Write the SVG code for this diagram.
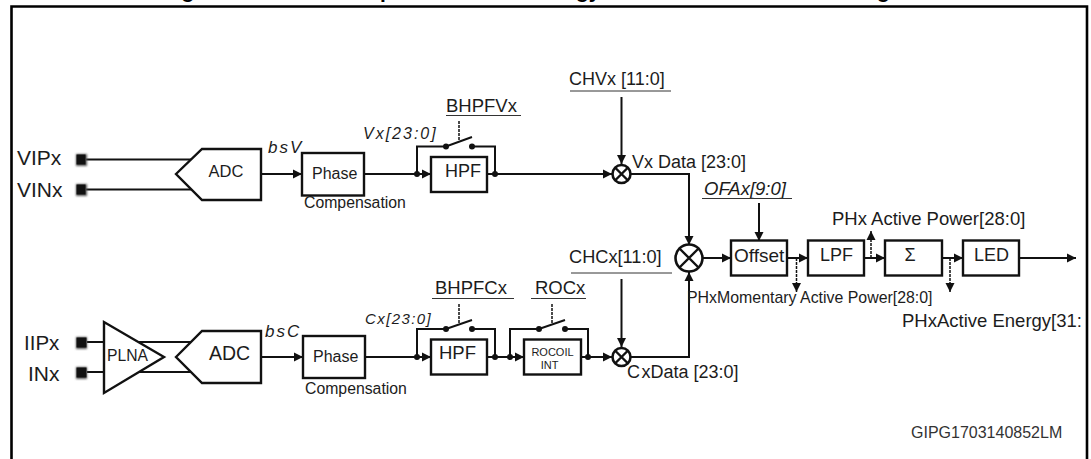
<svg xmlns="http://www.w3.org/2000/svg" width="1091" height="459" viewBox="0 0 1091 459">
<style>
text{font-family:"Liberation Sans",Arial,sans-serif;fill:#1c1c1c}
.b{fill:#fff;stroke:#111;stroke-width:2.4}
.l{fill:none;stroke:#111;stroke-width:2}
.a{fill:none;stroke:#111;stroke-width:2;marker-end:url(#ah)}
.d{fill:none;stroke:#111;stroke-width:1.5;stroke-dasharray:3 1}
.da{fill:none;stroke:#111;stroke-width:1.5;stroke-dasharray:3 1;marker-end:url(#ah)}
.u{fill:none;stroke:#333;stroke-width:1}
.m{fill:#fff;stroke:#111;stroke-width:2.6}
.x{fill:none;stroke:#111;stroke-width:2.4}
.j{fill:#111}
.t{font-weight:bold;font-size:21px;fill:#000}
.p{fill:#111}
.s{fill:#555;filter:url(#bl)}
</style>
<defs>
<marker id="ah" markerUnits="userSpaceOnUse" markerWidth="9" markerHeight="10" refX="9" refY="5" orient="auto"><path d="M0,0.5 L9,5 L0,9.500 Z" fill="#111"/></marker>
<filter id="bl" x="-40%" y="-40%" width="180%" height="180%"><feGaussianBlur stdDeviation="1.2"/></filter>
</defs>
<rect width="1091" height="459" fill="#fff"/>
<g id="title">
<text class="t" x="188" y="-2" text-anchor="middle">g</text>
<text class="t" x="380" y="-2">p</text>
<text class="t" x="576" y="-2">gy</text>
<text class="t" x="877" y="-2">g</text>
</g>
<path id="frame" d="M11.500,459 V6.500 H1087 V459" fill="none" stroke="#000" stroke-width="2.600"/>
<g id="connectors">
<path class="l" d="M86,159.500 H192 M86,189.500 H192 M87,342 H104 M87,372 H104"/>
<path class="l" stroke-width="1.500" d="M139,342 H192 M139,372 H192"/>
<path class="a" d="M262,174 H302"/>
<path class="l" d="M364,174 H431"/>
<path class="a" d="M417,174 H431"/>
<path class="l" d="M417,174 V146.500 H446 L472,137 M472,146.500 H495 V174 M487,174 H495"/>
<path class="d" d="M459,121 V141"/>
<path class="a" d="M495,174 H612"/>
<path class="a" d="M621.500,97 V164"/>
<path class="a" d="M631,174 H689 V245"/>
<path class="a" d="M262,357 H303"/>
<path class="l" d="M365,357 H417"/>
<path class="a" d="M417,357 H431"/>
<path class="l" d="M417,357 V329 H446 L472,320 M472,329 H495 V357 M487,357 H510"/>
<path class="d" d="M459,304 V324"/>
<path class="a" d="M510,357 H524"/>
<path class="l" d="M510,357 V329 H539 L565,320 M565,329 H588 V357 M581,357 H588"/>
<path class="d" d="M552,304 V324"/>
<path class="a" d="M588,357 H612"/>
<path class="a" d="M621.500,279 V347"/>
<path class="a" d="M631,357 H689 V272"/>
<path class="a" d="M703,258 H731"/>
<path class="a" d="M759,203 V241"/>
<path class="a" d="M787,258 H808"/>
<path class="a" d="M864,258 H885"/>
<path class="a" d="M942,258 H963"/>
<path class="a" d="M1019,258 H1076"/>
<path class="da" d="M796.500,258 V292"/>
<path class="da" d="M871,258 V231"/>
<path class="da" d="M950,258 V292"/>
<g class="j">
<circle cx="417" cy="174" r="3"/><circle cx="446" cy="146.500" r="3"/><circle cx="472" cy="146.500" r="3"/><circle cx="495" cy="174" r="3"/>
<circle cx="417" cy="357" r="3"/><circle cx="446" cy="329" r="3"/><circle cx="472" cy="329" r="3"/><circle cx="495" cy="357" r="3"/>
<circle cx="510" cy="357" r="3"/><circle cx="539" cy="329" r="3"/><circle cx="565" cy="329" r="3"/><circle cx="588" cy="357" r="3"/>
</g>
</g>
<g id="pad-vip"><rect class="s" x="76" y="154" width="11" height="12"/><rect class="p" x="76.500" y="154.500" width="9" height="10"/><text x="17" y="165" font-size="21">VIPx</text></g>
<g id="pad-vin"><rect class="s" x="76" y="184" width="11" height="12"/><rect class="p" x="76.500" y="184.500" width="9" height="10"/><text x="17" y="197" font-size="21">VINx</text></g>
<g id="pad-iip"><rect class="s" x="76" y="337" width="11" height="12"/><rect class="p" x="76.500" y="337.500" width="10" height="10"/><text x="24" y="350" font-size="20.500">IIPx</text></g>
<g id="pad-iin"><rect class="s" x="76" y="367" width="11" height="12"/><rect class="p" x="76.500" y="367.500" width="10" height="10"/><text x="28" y="381" font-size="21">INx</text></g>
<g id="adc-v"><path class="b" d="M176,174 L202,149 H261 V200 H202 Z"/><text x="208.500" y="177" font-size="16.500">ADC</text></g>
<g id="adc-c"><path class="b" d="M176,357 L202,331 H261 V383 H202 Z"/><text x="209" y="360" font-size="19.500">ADC</text></g>
<g id="plna"><path class="b" d="M104,322 V393 L164,357 Z"/><text x="107" y="361" font-size="15.700">PLNA</text></g>
<g id="phase-v"><rect class="b" x="302" y="153" width="62" height="42.500"/><text x="312" y="179" font-size="16">Phase</text></g>
<g id="phase-c"><rect class="b" x="303" y="336" width="62" height="42"/><text x="313" y="362" font-size="16">Phase</text></g>
<g id="hpf-v"><rect class="b" x="431" y="157" width="56" height="35"/><text x="445" y="177" font-size="18">HPF</text></g>
<g id="hpf-c"><rect class="b" x="431" y="339.500" width="56" height="35"/><text x="439" y="359" font-size="18.500">HPF</text></g>
<g id="rocoil"><rect class="b" x="524" y="339.500" width="57" height="35"/><text x="552.500" y="356" font-size="11" text-anchor="middle">ROCOIL</text><text x="549.500" y="369" font-size="11" text-anchor="middle">INT</text></g>
<g id="mixer-v"><circle class="m" cx="621.500" cy="174" r="9"/><path class="x" d="M615,167.500 L628,180.500 M628,167.500 L615,180.500"/></g>
<g id="mixer-c"><circle class="m" cx="621.500" cy="357" r="9"/><path class="x" d="M615,350.500 L628,363.500 M628,350.500 L615,363.500"/></g>
<g id="mixer-main"><circle class="m" cx="689" cy="258" r="13.500"/><path class="x" d="M679.500,248.500 L698.500,267.500 M698.500,248.500 L679.500,267.500"/></g>
<g id="offset"><rect class="b" x="731" y="240.500" width="56" height="35"/><text x="734" y="262" font-size="19">Offset</text></g>
<g id="lpf"><rect class="b" x="808" y="240.500" width="56" height="35"/><text x="820" y="261" font-size="18">LPF</text></g>
<g id="sum"><rect class="b" x="885" y="240.500" width="57" height="35"/><text x="910" y="261" font-size="18" text-anchor="middle">Σ</text></g>
<g id="led"><rect class="b" x="963" y="240.500" width="56" height="35"/><text x="974" y="261" font-size="18">LED</text></g>
<g id="labels">
<text x="268" y="153" font-size="17" font-style="italic" letter-spacing="2">bsV</text>
<text x="265" y="337" font-size="17" font-style="italic" letter-spacing="2">bsC</text>
<text x="304" y="208" font-size="15.800">Compensation</text>
<text x="305" y="394" font-size="15.800">Compensation</text>
<text x="363" y="139" font-size="16" font-style="italic" letter-spacing="2">Vx[23:0]</text>
<text x="365" y="324" font-size="15" font-style="italic" letter-spacing="1.400">Cx[23:0]</text>
<text x="446" y="112" font-size="18.500">BHPFVx</text><path class="u" d="M446,115.500 H521"/>
<text x="435" y="294" font-size="18.500">BHPFCx</text><path class="u" d="M432,298.500 H514"/>
<text x="535" y="294" font-size="18.500">ROCx</text><path class="u" d="M531,298.500 H586"/>
<text x="569" y="85" font-size="18">CHVx [11:0]</text><path class="u" d="M570,91 H671"/>
<text x="569" y="263" font-size="18.200">CHCx[11:0]</text><path class="u" d="M571,273 H672"/>
<text x="632" y="168" font-size="18">Vx Data [23:0]</text>
<text x="627" y="378" font-size="18">C<tspan x="641.500">xData [23:0]</tspan></text>
<text x="704" y="195" font-size="18.500" font-style="italic">OFAx[9:0]</text><path class="u" d="M702,198.500 H792"/>
<text x="832" y="225" font-size="18.500">PHx Active Power[28:0]</text>
<text x="687" y="303" font-size="15.900">PHxMomentary Active Power[28:0]</text>
<text x="902" y="327" font-size="18.500">PHxActive Energy[31:</text>
<text x="911" y="438" font-size="16" style="fill:#333">GIPG1703140852LM</text>
</g>
</svg>
